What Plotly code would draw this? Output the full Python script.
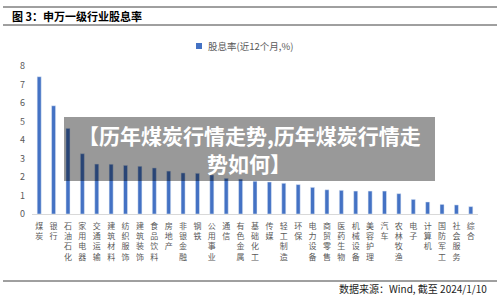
import plotly.graph_objects as go

categories = ["煤炭", "银行", "石油石化", "家用电器", "交通运输", "建筑材料", "纺织服饰", "建筑装饰",
              "食品饮料", "房地产", "非银金融", "钢铁", "公用事业", "通信", "有色金属", "基础化工",
              "传媒", "轻工制造", "环保", "电力设备", "商贸零售", "医药生物", "机械设备", "美容护理",
              "汽车", "农林牧渔", "电子", "计算机", "国防军工", "社会服务", "综合"]
dividend_yield = [7.42, 5.85, 4.63, 3.26, 2.70, 2.69, 2.63, 2.58, 2.49, 2.32, 2.22, 2.20,
                  2.11, 1.93, 1.89, 1.77, 1.73, 1.66, 1.59, 1.44, 1.31, 1.28, 1.24, 1.24,
                  1.24, 1.10, 0.79, 0.65, 0.52, 0.49, 0.40]
y_ticks = [0, 1, 2, 3, 4, 5, 6, 7, 8]
series_name = "股息率(近12个月,%)"
title_text = "图 3：申万一级行业股息率"
source_text = "数据来源：Wind, 截至 2024/1/10"
overlay_lines = ["【历年煤炭行情走势,历年煤炭行情走", "势如何】"]

FONT = "Noto Sans CJK SC"
BLUE = "#4472C4"
W, H = 500, 300

def px(x):
    return x / W

def py(y):
    return (H - y) / H

fig = go.Figure()
fig.add_trace(go.Bar(x=categories, y=dividend_yield, marker_color=BLUE, name=series_name,
                     showlegend=False))

fig.update_layout(
    width=W, height=H,
    margin=dict(l=0, r=0, t=0, b=0),
    paper_bgcolor="white", plot_bgcolor="white",
    bargap=0.72,
    font=dict(family=FONT, color="#595959"),
    xaxis=dict(domain=[px(32), px(478)], tickmode="array", tickvals=categories,
               ticktext=["<br>".join(list(c)) for c in categories],
               tickangle=0, tickfont=dict(size=8, color="#595959", family=FONT),
               showline=True, linecolor="#d9d9d9", linewidth=1, showgrid=False,
               ticks="", automargin=False, ticklabelstandoff=4),
    yaxis=dict(domain=[py(214), py(66)], range=[0, 8], tickvals=y_ticks,
               tickfont=dict(size=9, color="#595959", family=FONT),
               showgrid=False, zeroline=False, showline=False, ticks="",
               automargin=False, ticklabelstandoff=6),
)

shapes = []
for yy in (7, 25, 281):
    shapes.append(dict(type="line", xref="paper", yref="paper", x0=px(3), x1=px(497),
                       y0=py(yy), y1=py(yy), line=dict(color="#404040", width=1)))
# legend square
shapes.append(dict(type="rect", xref="paper", yref="paper", x0=px(196), x1=px(202),
                   y0=py(49), y1=py(43), fillcolor=BLUE, line=dict(width=0)))
# overlay box
shapes.append(dict(type="rect", xref="paper", yref="paper", x0=px(64), x1=px(435),
                   y0=py(181), y1=py(117), fillcolor="rgba(0,0,0,0.4)", line=dict(width=0),
                   layer="above"))
fig.update_layout(shapes=shapes)

ann = [
    dict(text="<b>" + title_text + "</b>", x=px(10), y=py(16), xanchor="left", yanchor="middle",
         font=dict(size=11, color="#000000", family=FONT)),
    dict(text=series_name, x=px(206), y=py(46), xanchor="left", yanchor="middle",
         font=dict(size=9.5, color="#595959", family=FONT)),
    dict(text=source_text, x=px(489), y=py(288), xanchor="right", yanchor="middle",
         font=dict(size=10, color="#222222", family=FONT)),
    dict(text="<b>" + overlay_lines[0] + "</b>", x=px(249), y=py(135), xanchor="center",
         yanchor="middle", font=dict(size=21, color="white", family=FONT)),
    dict(text="<b>" + overlay_lines[1] + "</b>", x=px(249), y=py(163), xanchor="center",
         yanchor="middle", font=dict(size=21, color="white", family=FONT)),
]
for a in ann:
    a.update(xref="paper", yref="paper", showarrow=False)
fig.update_layout(annotations=ann)

fig.write_html("out.html")
